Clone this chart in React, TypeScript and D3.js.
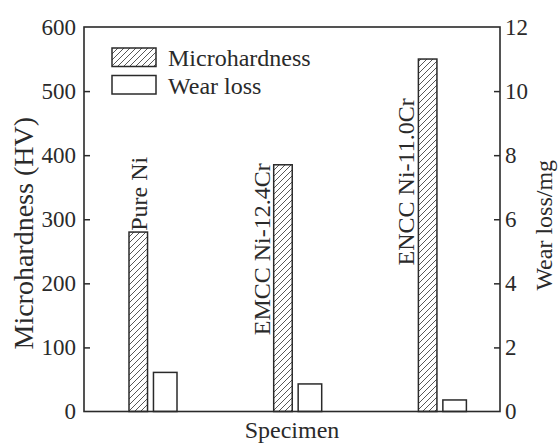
import { useEffect, useRef } from 'react';
import * as d3 from 'd3';

const specimens = ['Pure Ni', 'EMCC Ni-12.4Cr', 'ENCC Ni-11.0Cr'];
const microhardness = [280, 385, 550];
const wearLoss = [1.22, 0.86, 0.36];
const leftTicks = [0, 100, 200, 300, 400, 500, 600];
const rightTicks = [0, 2, 4, 6, 8, 10, 12];
const seriesNames = ['Microhardness', 'Wear loss'];

export default function App() {
  const svgRef = useRef<SVGSVGElement>(null);

  useEffect(() => {
    const width = 558;
    const height = 446;
    const margin = { top: 27, right: 58, bottom: 34.5, left: 84 };
    const ink = '#2a2a2a';
    const font = '"Liberation Serif", "Times New Roman", serif';

    const svg = d3.select(svgRef.current);
    svg.selectAll('*').remove();

    const x0 = d3
      .scalePoint<string>()
      .domain(specimens)
      .range([margin.left, width - margin.right])
      .padding(0.4375)
      .align(0.545);

    const x1 = d3.scaleBand().domain(seriesNames).range([-24, 24]).paddingInner(0.22);

    const yL = d3.scaleLinear().domain([0, 600]).range([height - margin.bottom, margin.top]);
    const yR = d3.scaleLinear().domain([0, 12]).range([height - margin.bottom, margin.top]);

    // hatch pattern
    const pat = svg
      .append('defs')
      .append('pattern')
      .attr('id', 'hatch')
      .attr('patternUnits', 'userSpaceOnUse')
      .attr('width', 6)
      .attr('height', 6);
    pat.append('rect').attr('width', 6).attr('height', 6).attr('fill', '#fff');
    pat
      .append('path')
      .attr('d', 'M-1,1 L1,-1 M0,6 L6,0 M5,7 L7,5')
      .attr('stroke', '#444')
      .attr('stroke-width', 0.9);

    const bw = x1.bandwidth();
    // hatched bars are a little narrower than the open ones
    const hx = (d: string) => x0(d)! + x1('Microhardness')!;
    const wx = (d: string) => x0(d)! + x1('Wear loss')! - 2.5;

    // Microhardness bars
    svg
      .append('g')
      .selectAll('rect')
      .data(specimens)
      .enter()
      .append('rect')
      .attr('x', d => hx(d))
      .attr('y', (_, i) => yL(microhardness[i]))
      .attr('width', bw - 2.5)
      .attr('height', (_, i) => yL(0) - yL(microhardness[i]))
      .attr('fill', 'url(#hatch)')
      .attr('stroke', ink)
      .attr('stroke-width', 1.5);

    // Wear loss bars
    svg
      .append('g')
      .selectAll('rect')
      .data(specimens)
      .enter()
      .append('rect')
      .attr('x', d => wx(d))
      .attr('y', (_, i) => yR(wearLoss[i]))
      .attr('width', bw + 2.5)
      .attr('height', (_, i) => yR(0) - yR(wearLoss[i]))
      .attr('fill', '#fff')
      .attr('stroke', ink)
      .attr('stroke-width', 1.5);

    // specimen labels (rotated)
    const labelStart = [282, 119, 228];
    svg
      .append('g')
      .selectAll('text')
      .data(specimens)
      .enter()
      .append('text')
      .attr('transform', (d, i) => {
        const bx = i === 0 ? hx(d) + bw - 3.5 : hx(d) - 4;
        return `translate(${bx},${yL(labelStart[i])}) rotate(-90)`;
      })
      .attr('font-family', font)
      .attr('font-size', 24)
      .attr('fill', ink)
      .text(d => d);

    // frame
    svg
      .append('rect')
      .attr('x', margin.left)
      .attr('y', margin.top)
      .attr('width', width - margin.left - margin.right)
      .attr('height', height - margin.top - margin.bottom)
      .attr('fill', 'none')
      .attr('stroke', ink)
      .attr('stroke-width', 1.6);

    // left axis
    const gl = svg
      .append('g')
      .attr('transform', `translate(${margin.left},0)`)
      .call(d3.axisRight(yL).tickValues(leftTicks).tickSize(6));
    gl.select('.domain').remove();
    gl.selectAll('line').attr('stroke', ink).attr('stroke-width', 1.5);
    gl.selectAll('text')
      .attr('x', -8)
      .attr('text-anchor', 'end')
      .style('font-family', font)
      .style('font-size', '23px')
      .attr('fill', ink);
    gl.selectAll('.tick')
      .filter(d => d === 0 || d === 600)
      .select('line')
      .remove();

    // right axis
    const gr = svg
      .append('g')
      .attr('transform', `translate(${width - margin.right},0)`)
      .call(d3.axisLeft(yR).tickValues(rightTicks).tickSize(6));
    gr.select('.domain').remove();
    gr.selectAll('line').attr('stroke', ink).attr('stroke-width', 1.5);
    gr.selectAll('text')
      .attr('x', 5)
      .attr('text-anchor', 'start')
      .style('font-family', font)
      .style('font-size', '23px')
      .attr('fill', ink);
    gr.selectAll('.tick')
      .filter(d => d === 0 || d === 12)
      .select('line')
      .remove();

    // axis titles
    svg
      .append('text')
      .attr('transform', `translate(33,${(margin.top + height - margin.bottom) / 2 + 14}) rotate(-90)`)
      .attr('text-anchor', 'middle')
      .attr('font-family', font)
      .attr('font-size', 28)
      .attr('fill', ink)
      .text('Microhardness (HV)');
    svg
      .append('text')
      .attr('transform', `translate(552,${(margin.top + height - margin.bottom) / 2 + 6}) rotate(-90)`)
      .attr('text-anchor', 'middle')
      .attr('font-family', font)
      .attr('font-size', 24)
      .attr('fill', ink)
      .text('Wear loss/mg');
    svg
      .append('text')
      .attr('x', (margin.left + width - margin.right) / 2)
      .attr('y', 438)
      .attr('text-anchor', 'middle')
      .attr('font-family', font)
      .attr('font-size', 24)
      .attr('fill', ink)
      .text('Specimen');

    // legend
    const lg = svg.append('g').attr('transform', 'translate(112,48)');
    const items = lg
      .selectAll('g')
      .data(seriesNames)
      .enter()
      .append('g')
      .attr('transform', (_, i) => `translate(0,${i * 27.5})`);
    items
      .append('rect')
      .attr('width', 44)
      .attr('height', 18.5)
      .attr('fill', (_, i) => (i === 0 ? 'url(#hatch)' : '#fff'))
      .attr('stroke', ink)
      .attr('stroke-width', 1.5);
    items
      .append('text')
      .attr('x', 56)
      .attr('y', 18)
      .attr('font-family', font)
      .attr('font-size', 24)
      .attr('fill', ink)
      .text(d => d);
  }, []);

  return (
    <svg
      ref={svgRef}
      width={558}
      height={446}
      style={{ position: 'absolute', left: 0, top: 0, background: '#fff' }}
    ></svg>
  );
}
